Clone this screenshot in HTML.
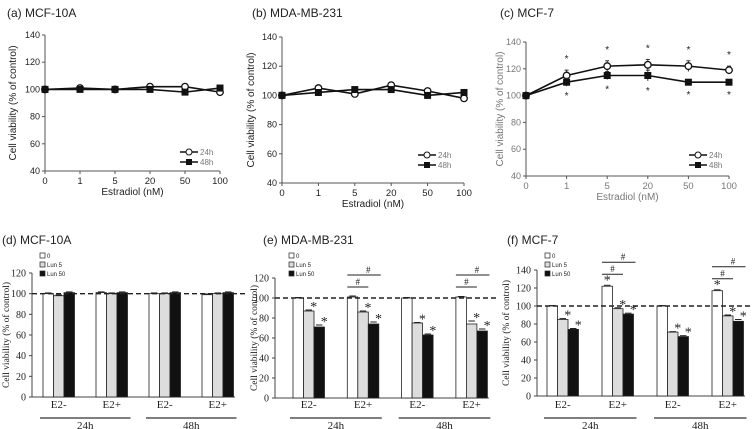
<!DOCTYPE html>
<html><head><meta charset="utf-8"><style>
body{margin:0;background:#fff;width:755px;height:429px;overflow:hidden}
svg{display:block}
</style></head><body>
<svg id="fig" width="755" height="429" xmlns="http://www.w3.org/2000/svg"></svg>
<script>
const lineCats = ["0","1","5","20","50","100"];
const aS24 = [100,101,100,102,102,98];
const aS48 = [100,100,100,100,98,101];
const bS24 = [100,105,101,107,103,98];
const bS48 = [100,102,104,104,100,102];
const cS24 = [100,115,122,123,122,119];
const cS48 = [100,110,115,115,110,110];
const cErr24 = [0,4,4,4,4,3];
const cErr48 = [0,3,3,4,2,2];
const lineTicks = [40,60,80,100,120,140];
const barGroups = ["E2-","E2+","E2-","E2+"];
const barSeries = ["0","Lun 5","Lun 50"];
const dVals = [[100,98,101],[101,100,101],[100,100,101],[99,100,101]];
const eVals = [[100,87,71],[101,86,74],[100,75,63],[101,74,67]];
const fVals = [[100,85,74],[122,97,91],[100,71,66],[117,89,83]];
const eErr = [[0.5,1,2],[1,1,2],[0.5,0.5,1],[0.5,3,2]];
const fErr = [[0.5,1,1],[1,1,1],[0.5,0.5,1],[1,1,2]];
const dTicks = [0,20,40,60,80,100,120];
const fTicks = [0,20,40,60,80,100,120,140];

const NS="http://www.w3.org/2000/svg";
const svg=document.getElementById('fig');
function mk(tag,attrs,parent,text){const e=document.createElementNS(NS,tag);for(const k in attrs)e.setAttribute(k,attrs[k]);if(text!==undefined)e.textContent=text;(parent||svg).appendChild(e);return e;}

function lineChart(o){
  const g=mk('g',{});
  
  
  const col=o.gray?'#777':'#222';
  const y=v=>o.bottom-(v-40)/100*(o.bottom-o.top);
  const n=lineCats.length;
  const x=i=>o.left+i*(o.right-o.left)/(n-1);
  const t=mk('text',{x:o.tx,y:o.ty,'font-family':'Liberation Sans, sans-serif','font-size':12,fill:'#222'},g,o.title);
  
  mk('line',{x1:o.left,y1:o.top,x2:o.left,y2:o.bottom,stroke:'#555','stroke-width':1},g);
  mk('line',{x1:o.left,y1:o.bottom,x2:o.right,y2:o.bottom,stroke:'#555','stroke-width':1},g);
  lineTicks.forEach(v=>{
    mk('line',{x1:o.left-3,y1:y(v),x2:o.left,y2:y(v),stroke:'#555'},g);
    const l=mk('text',{x:o.left-5,y:y(v)+3,'text-anchor':'end','font-family':'Liberation Sans, sans-serif','font-size':9,fill:col},g,v);
    
  });
  lineCats.forEach((c,i)=>{
    mk('line',{x1:x(i),y1:o.bottom,x2:x(i),y2:o.bottom+3,stroke:'#555'},g);
    const l=mk('text',{x:x(i),y:o.bottom+13,'text-anchor':'middle','font-family':'Liberation Sans, sans-serif','font-size':9.5,fill:col},g,c);
    
  });
  const xt=mk('text',{x:(o.left+o.right)/2,y:o.bottom+24,'text-anchor':'middle','font-family':'Liberation Sans, sans-serif','font-size':10,fill:col},g,'Estradiol (nM)');
  
  const cy=(o.top+o.bottom)/2;
  const yt=mk('text',{x:o.ylx,y:cy,transform:`rotate(-90 ${o.ylx} ${cy})`,'text-anchor':'middle','font-family':'Liberation Sans, sans-serif','font-size':10,fill:col},g,'Cell viability (% of control)');
  
  [[o.s24,'open','24h',o.e24],[o.s48,'sq','48h',o.e48]].forEach(([s,m,name,err],si)=>{
    const pl=mk('polyline',{points:s.map((v,i)=>x(i)+','+y(v)).join(' '),fill:'none',stroke:'#111','stroke-width':1.6},g);
    
    s.forEach((v,i)=>{
      if(err&&err[i]){mk('line',{x1:x(i),y1:y(v+err[i]),x2:x(i),y2:y(v-err[i]),stroke:'#333'},g);
        mk('line',{x1:x(i)-2,y1:y(v+err[i]),x2:x(i)+2,y2:y(v+err[i]),stroke:'#333'},g);}
      let p;
      if(m==='open')p=mk('circle',{cx:x(i),cy:y(v),r:3.3,fill:'#fff',stroke:'#111','stroke-width':1.3},g);
      else p=mk('rect',{x:x(i)-3.5,y:y(v)-3.5,width:7,height:7,fill:'#111'},g);
      
      if(o.stars&&i>0){
        const sy=si===0?y(v+(err?err[i]:0))-8:y(v-(err?err[i]:0))+13;
        const st=mk('text',{x:x(i),y:sy,'text-anchor':'middle','font-family':'Liberation Sans, sans-serif','font-size':10,fill:'#222'},g,'*');
        
      }
    });
    const ly=o.legY+si*10;
    mk('line',{x1:o.legX,y1:ly,x2:o.legX+18,y2:ly,stroke:'#111','stroke-width':1.5},g);
    if(m==='open')mk('circle',{cx:o.legX+9,cy:ly,r:3,fill:'#fff',stroke:'#111'},g);
    else mk('rect',{x:o.legX+6,y:ly-3,width:6,height:6,fill:'#111'},g);
    const lt=mk('text',{x:o.legX+20,y:ly+3,'font-family':'Liberation Sans, sans-serif','font-size':8,fill:'#777'},g,name);
    
  });
}

lineChart({name:'panel-a',title:'(a) MCF-10A',tx:7,ty:17,left:45,right:220,top:35,bottom:171,ylx:16,s24:aS24,s48:aS48,legX:180,legY:152});
lineChart({name:'panel-b',title:'(b) MDA-MB-231',tx:252,ty:17,left:282,right:464,top:37,bottom:183,ylx:254,s24:bS24,s48:bS48,legX:418,legY:155});
lineChart({name:'panel-c',title:'(c) MCF-7',tx:500,ty:17,left:526,right:729,top:42,bottom:176,ylx:503,s24:cS24,s48:cS48,e24:cErr24,e48:cErr48,legX:689,legY:155,gray:true,stars:true});

function barChart(o){
  const g=mk('g',{});
  
  
  const max=o.ticks[o.ticks.length-1];
  const y=v=>o.bottom-v/max*(o.bottom-o.top);
  const t=mk('text',{x:o.tx,y:o.ty,'font-family':'Liberation Sans, sans-serif','font-size':12,fill:'#222'},g,o.title);
  
  mk('line',{x1:o.axis,y1:o.top,x2:o.axis,y2:o.bottom,stroke:'#444'},g);
  mk('line',{x1:o.axis,y1:o.bottom,x2:o.g0+3*o.pitch+33,y2:o.bottom,stroke:'#444'},g);
  o.ticks.forEach(v=>{
    mk('line',{x1:o.axis-3,y1:y(v),x2:o.axis,y2:y(v),stroke:'#444'},g);
    const l=mk('text',{x:o.axis-6,y:y(v)+3.5,'text-anchor':'end','font-family':'Liberation Serif, serif','font-size':10,fill:'#222'},g,v);
    
  });
  const cy=(o.top+o.bottom)/2;
  const yt=mk('text',{x:o.ylx,y:cy,transform:`rotate(-90 ${o.ylx} ${cy})`,'text-anchor':'middle','font-family':'Liberation Serif, serif','font-size':9.5,fill:'#222'},g,'Cell viability (% of control)');
  
  const fills=['#fff','#ddd','#111'];
  const bw=10.5;
  const bx=(gi,si)=>o.g0+gi*o.pitch+si*bw;
  o.vals.forEach((grp,gi)=>{
    grp.forEach((v,si)=>{
      const r=mk('rect',{x:bx(gi,si),y:y(v),width:bw,height:o.bottom-y(v),fill:fills[si],stroke:'#222','stroke-width':0.8},g);
      
      const e=o.err?o.err[gi][si]:0.7;
      mk('line',{x1:bx(gi,si)+2,y1:y(v+e),x2:bx(gi,si)+bw-2,y2:y(v+e),stroke:'#222','stroke-width':1},g);
      const star=o.stars&&((si>0)||v>105);
      if(star){const st=mk('text',{x:bx(gi,si)+bw/2+(si>0?5:0),y:y(v+e)+(si>0?1:-1),'text-anchor':'middle','font-family':'Liberation Serif, serif','font-size':14,fill:'#222'},g,'*');
        }
    });
    const cl=mk('text',{x:bx(gi,1)+bw/2,y:408,'text-anchor':'middle','font-family':'Liberation Serif, serif','font-size':11,fill:'#222'},g,barGroups[gi]);
    
    if(o.hash&&gi%2===1){
      const top=Math.max(...grp);
      const ys=y(top)-o.hashGap, yl=ys-12;
      mk('line',{x1:bx(gi,0),y1:ys,x2:bx(gi,1)+bw,y2:ys,stroke:'#222'},g);
      mk('line',{x1:bx(gi,0),y1:yl,x2:bx(gi,2)+bw+2,y2:yl,stroke:'#222'},g);
      const h1=mk('text',{x:bx(gi,1),y:ys-2,'text-anchor':'middle','font-family':'Liberation Serif, serif','font-size':9,fill:'#222'},g,'#');
      
      const h2=mk('text',{x:bx(gi,1)+bw,y:yl-2,'text-anchor':'middle','font-family':'Liberation Serif, serif','font-size':9,fill:'#222'},g,'#');
      
    }
  });
  mk('line',{x1:o.axis,y1:y(100),x2:o.dashEnd,y2:y(100),stroke:'#222','stroke-width':1.4,'stroke-dasharray':'5,3'},g);
  [['24h',0],['48h',2]].forEach(([h,gi])=>{
    const x1=bx(gi,0)-3,x2=bx(gi+1,2)+bw+3;
    mk('line',{x1,y1:418,x2,y2:418,stroke:'#333','stroke-width':1.3},g);
    const hl=mk('text',{x:(x1+x2)/2,y:429,'text-anchor':'middle','font-family':'Liberation Serif, serif','font-size':11,fill:'#222'},g,h);
    
  });
  barSeries.forEach((s,si)=>{
    const ly=o.legY+si*9;
    mk('rect',{x:o.legX,y:ly-5,width:5,height:5,fill:fills[si],stroke:'#222','stroke-width':0.7},g);
    const lt=mk('text',{x:o.legX+7,y:ly,'font-family':'Liberation Sans, sans-serif','font-size':6,fill:'#222'},g,s);
    
  });
}
barChart({name:'panel-d',title:'(d) MCF-10A',tx:2,ty:244,axis:32,top:273,bottom:397,ticks:dTicks,vals:dVals,g0:43,pitch:53,ylx:9,dashEnd:245,legX:40,legY:258});
barChart({name:'panel-e',title:'(e) MDA-MB-231',tx:263,ty:244,axis:275,top:278,bottom:398,ticks:dTicks,vals:eVals,err:eErr,g0:293,pitch:54.3,ylx:257,dashEnd:498,legX:289,legY:258,stars:true,hash:true,hashGap:10});
barChart({name:'panel-f',title:'(f) MCF-7',tx:507,ty:244,axis:537,top:270,bottom:396,ticks:fTicks,vals:fVals,err:fErr,g0:547,pitch:55,ylx:509,dashEnd:752,legX:545,legY:258,stars:true,hash:true,hashGap:12});
</script>
</body></html>
